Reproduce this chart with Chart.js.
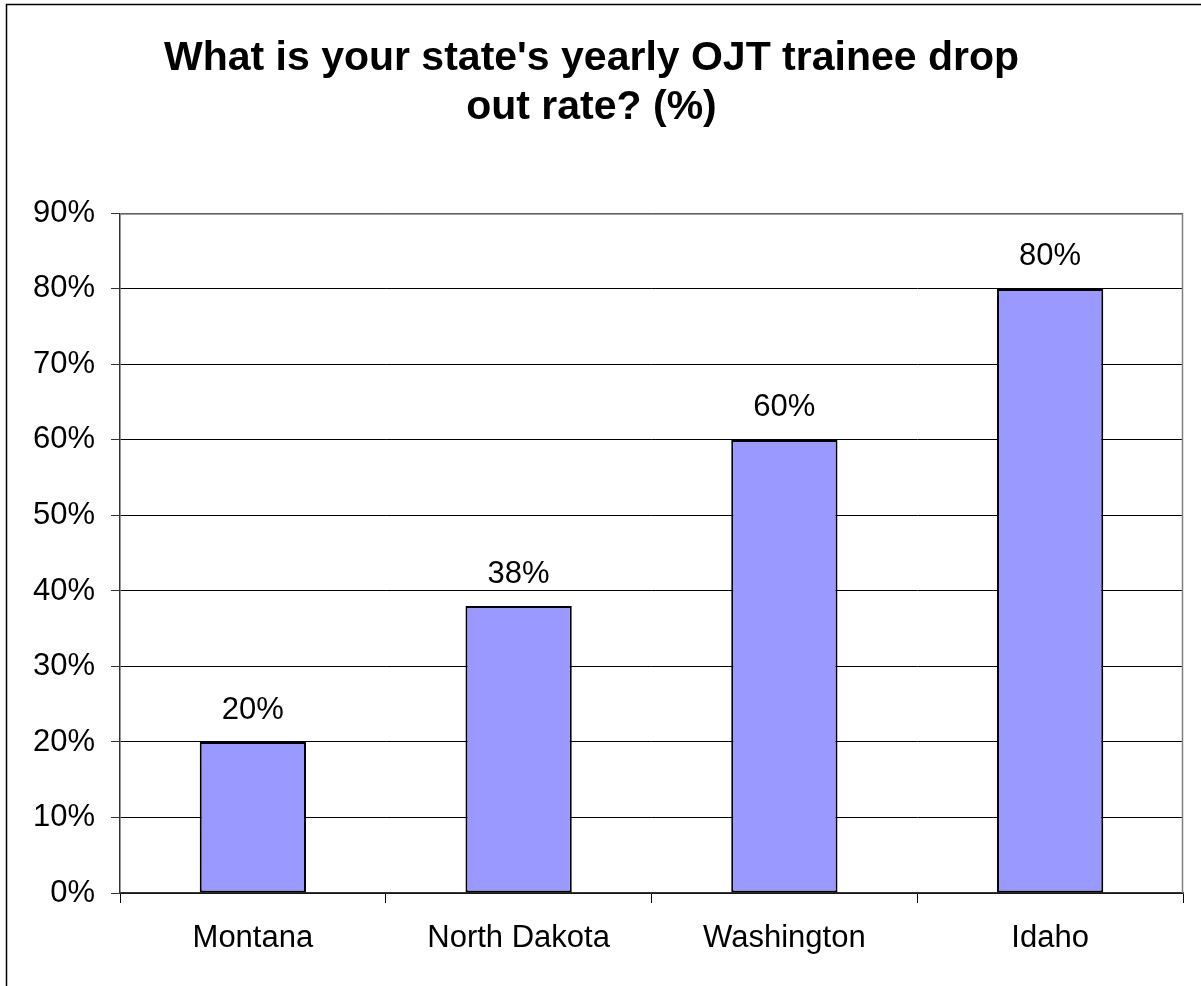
<!DOCTYPE html>
<html>
<head>
<meta charset="utf-8">
<script src="https://cdn.jsdelivr.net/npm/chart.js@4"></script>
<style>
  html, body { margin: 0; padding: 0; background: #fff; }
  #wrap { width: 1201px; height: 986px; }
</style>
</head>
<body>
<div id="wrap"><canvas id="myChart" width="1201" height="986"></canvas></div>
<script>
// Data
const states = ['Montana', 'North Dakota', 'Washington', 'Idaho'];
const dropOutRate = [20, 38, 60, 80];
const titleLines = ["What is your state's yearly OJT trainee drop", 'out rate? (%)'];

const fontFamily = '"Liberation Sans", Arial, sans-serif';

// outer frame + plot border
const framePlugin = {
    id: 'frame',
    beforeDraw(chart) {
        const c = chart.ctx;
        c.save();
        c.fillStyle = '#fff';
        c.fillRect(0, 0, chart.width, chart.height);
        c.strokeStyle = '#000';
        c.lineWidth = 1.5;
        c.strokeRect(6.5, 4.5, chart.width + 20, chart.height + 20);
        c.restore();
    },
    afterDatasetsDraw(chart) {
        const a = chart.chartArea;
        const c = chart.ctx;
        c.save();
        c.strokeStyle = '#808080';
        c.lineWidth = 1.5;
        c.beginPath();
        c.moveTo(a.left, a.top + 0.5);
        c.lineTo(a.right - 0.5, a.top + 0.5);
        c.lineTo(a.right - 0.5, a.bottom);
        c.stroke();
        c.restore();
    }
};

// value labels above bars
const valueLabels = {
    id: 'valueLabels',
    afterDatasetsDraw(chart) {
        const c = chart.ctx;
        const meta = chart.getDatasetMeta(0);
        c.save();
        c.font = '31px ' + fontFamily;
        c.fillStyle = '#000';
        c.textAlign = 'center';
        c.textBaseline = 'middle';
        meta.data.forEach((bar, i) => {
            c.fillText(dropOutRate[i] + '%', bar.x, bar.y - 32);
        });
        c.restore();
    }
};

const ctx = document.getElementById('myChart').getContext('2d');

new Chart(ctx, {
    type: 'bar',
    data: {
        labels: states,
        datasets: [{
            data: dropOutRate,
            backgroundColor: '#9999FF',
            borderColor: '#000',
            borderWidth: 2,
            borderSkipped: false,
            categoryPercentage: 1.0,
            barPercentage: 0.4
        }]
    },
    options: {
        responsive: false,
        animation: false,
        layout: { padding: { left: 0, right: 18, top: 0, bottom: 0 } },
        plugins: {
            legend: { display: false },
            tooltip: { enabled: false },
            title: {
                display: true,
                text: titleLines,
                color: '#000',
                font: { family: fontFamily, size: 41, weight: 'bold', lineHeight: 1.2 },
                padding: { top: 34, bottom: 81 }
            }
        },
        scales: {
            x: {
                afterFit(scale) { scale.height = 93; },
                grid: {
                    offset: true,
                    drawOnChartArea: false,
                    drawTicks: true,
                    tickLength: 10,
                    tickColor: '#000'
                },
                border: { color: '#333', width: 1.5 },
                ticks: {
                    color: '#000',
                    padding: 17,
                    font: { family: fontFamily, size: 31 }
                }
            },
            y: {
                min: 0,
                max: 90,
                afterFit(scale) { scale.width = 120; },
                grid: {
                    color: '#000',
                    lineWidth: 1,
                    tickLength: 9,
                    tickColor: '#333'
                },
                border: { color: '#333', width: 1.5 },
                ticks: {
                    stepSize: 10,
                    color: '#000',
                    padding: 16,
                    font: { family: fontFamily, size: 31 },
                    callback: v => v + '%'
                }
            }
        }
    },
    plugins: [framePlugin, valueLabels]
});
</script>
</body>
</html>
